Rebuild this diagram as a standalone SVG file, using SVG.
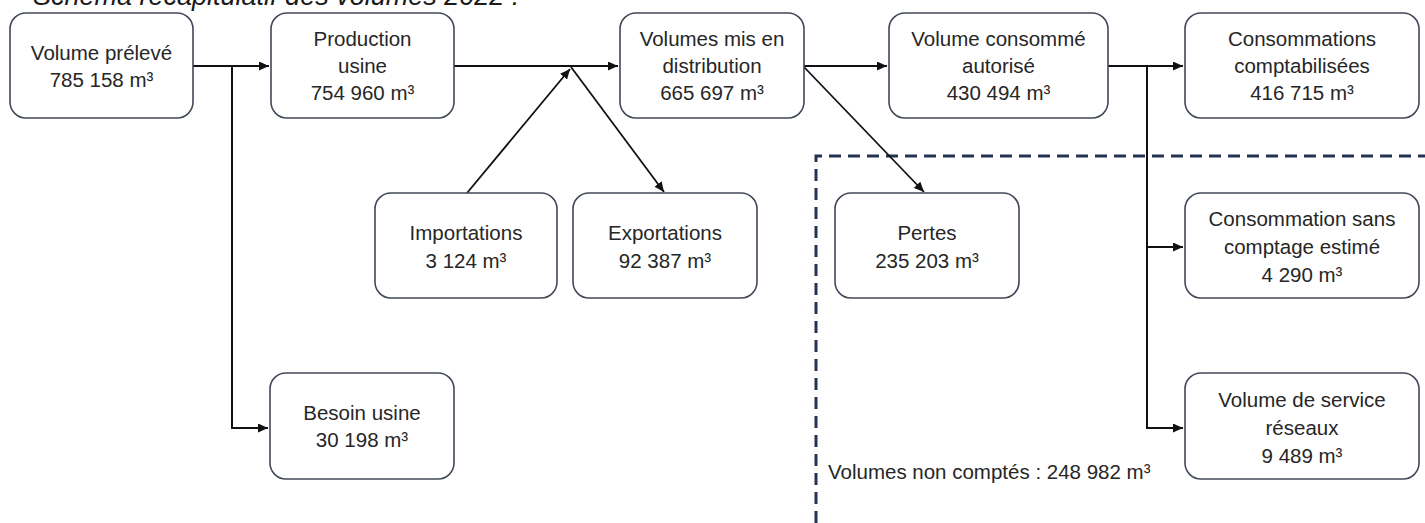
<svg xmlns="http://www.w3.org/2000/svg" width="1425" height="523" viewBox="0 0 1425 523">
<style>
.box{fill:#fff;stroke:#414858;stroke-width:1.6}
.t{font-family:"Liberation Sans",Arial,sans-serif;font-size:20.5px;fill:#262626;text-anchor:middle}
.ln{fill:none;stroke:#111;stroke-width:2}
.dg{fill:none;stroke:#111;stroke-width:1.8}
.title{font-family:"Liberation Sans",Arial,sans-serif;font-size:27px;font-style:italic;fill:#1a1a1a}
</style>
<defs>
<marker id="ah" markerUnits="userSpaceOnUse" markerWidth="11" markerHeight="9" refX="10" refY="4.5" orient="auto">
<path d="M0,0 L10,4.5 L0,9 z" fill="#111"/>
</marker>
</defs>
<rect width="1425" height="523" fill="#fff"/>
<text class="title" x="-2" y="5">-</text>
<text class="title" x="33" y="5">Schéma récapitulatif des volumes 2022 :</text>

<g id="non-comptes">
<path d="M816,523 L816,156 L1425,156" fill="none" stroke="#243352" stroke-width="3" stroke-dasharray="12 7"/>
<text class="t" style="text-anchor:start" x="828" y="479">Volumes non comptés : 248 982 m³</text>
</g>

<g id="connectors">
<path class="ln" d="M193,66 L269,66" marker-end="url(#ah)"/>
<path class="ln" d="M232,66 L232,428 L268,428" marker-end="url(#ah)"/>
<path class="ln" d="M454,66 L618,66" marker-end="url(#ah)"/>
<path class="dg" d="M467,193 L570,69" marker-end="url(#ah)"/>
<path class="dg" d="M571,67 L664,192" marker-end="url(#ah)"/>
<path class="ln" d="M804,66 L887,66" marker-end="url(#ah)"/>
<path class="dg" d="M804,67 L924,192" marker-end="url(#ah)"/>
<path class="ln" d="M1108,66 L1183,66" marker-end="url(#ah)"/>
<path class="ln" d="M1147,66 L1147,428 L1183,428" marker-end="url(#ah)"/>
<path class="ln" d="M1147,247 L1183,247" marker-end="url(#ah)"/>
</g>

<g id="volume-preleve">
<rect class="box" x="10" y="13" width="183" height="105" rx="16"/>
<text class="t" x="101.5" y="60">Volume prélevé</text>
<text class="t" x="101.5" y="87">785 158 m³</text>
</g>
<g id="production-usine">
<rect class="box" x="271" y="13" width="183" height="105" rx="16"/>
<text class="t" x="362.5" y="46">Production</text>
<text class="t" x="362.5" y="73">usine</text>
<text class="t" x="362.5" y="100">754 960 m³</text>
</g>
<g id="besoin-usine">
<rect class="box" x="270" y="373" width="184" height="106" rx="16"/>
<text class="t" x="362" y="420">Besoin usine</text>
<text class="t" x="362" y="447">30 198 m³</text>
</g>
<g id="importations">
<rect class="box" x="375" y="193" width="182" height="105" rx="16"/>
<text class="t" x="466" y="240">Importations</text>
<text class="t" x="466" y="268">3 124 m³</text>
</g>
<g id="exportations">
<rect class="box" x="573" y="193" width="184" height="105" rx="16"/>
<text class="t" x="665" y="240">Exportations</text>
<text class="t" x="665" y="268">92 387 m³</text>
</g>
<g id="volumes-distribution">
<rect class="box" x="620" y="13" width="184" height="105" rx="16"/>
<text class="t" x="712" y="46">Volumes mis en</text>
<text class="t" x="712" y="73">distribution</text>
<text class="t" x="712" y="100">665 697 m³</text>
</g>
<g id="volume-consomme">
<rect class="box" x="889" y="13" width="219" height="105" rx="16"/>
<text class="t" x="998.5" y="46">Volume consommé</text>
<text class="t" x="998.5" y="73">autorisé</text>
<text class="t" x="998.5" y="100">430 494 m³</text>
</g>
<g id="pertes">
<rect class="box" x="835" y="193" width="184" height="105" rx="16"/>
<text class="t" x="927" y="240">Pertes</text>
<text class="t" x="927" y="268">235 203 m³</text>
</g>
<g id="consommations-comptabilisees">
<rect class="box" x="1185" y="13" width="234" height="105" rx="16"/>
<text class="t" x="1302" y="46">Consommations</text>
<text class="t" x="1302" y="73">comptabilisées</text>
<text class="t" x="1302" y="100">416 715 m³</text>
</g>
<g id="consommation-sans-comptage">
<rect class="box" x="1185" y="193" width="234" height="105" rx="16"/>
<text class="t" x="1302" y="226">Consommation sans</text>
<text class="t" x="1302" y="254">comptage estimé</text>
<text class="t" x="1302" y="282">4 290 m³</text>
</g>
<g id="volume-service">
<rect class="box" x="1185" y="373" width="234" height="106" rx="16"/>
<text class="t" x="1302" y="407">Volume de service</text>
<text class="t" x="1302" y="435">réseaux</text>
<text class="t" x="1302" y="463">9 489 m³</text>
</g>
</svg>
